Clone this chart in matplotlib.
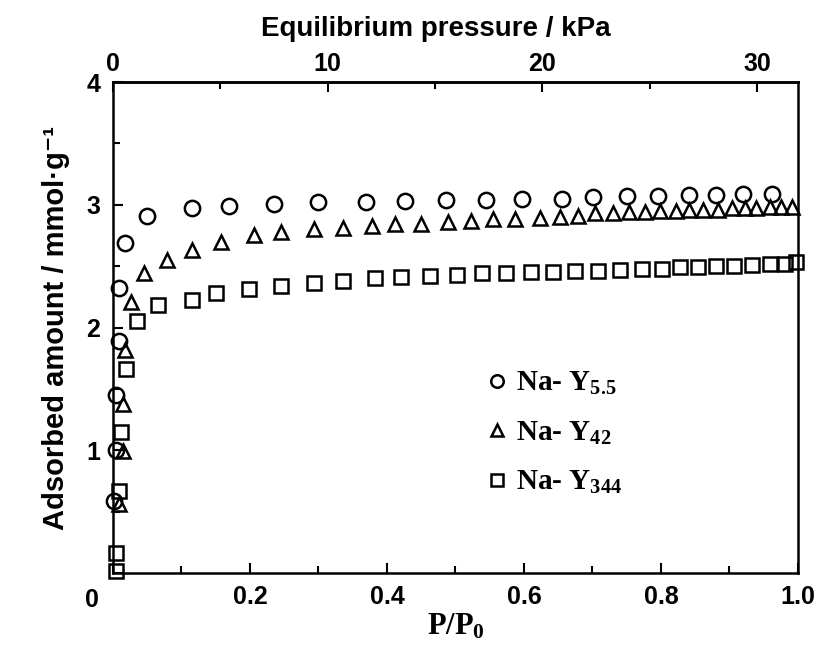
import matplotlib
matplotlib.use("Agg")
import matplotlib.pyplot as plt
from matplotlib.ticker import MultipleLocator, FixedLocator, FuncFormatter
from matplotlib.lines import Line2D

# --------------------------------------------
# Data
# --------------------------------------------
p_max_kpa = 31.9   # pressure at P/P0 = 1

y55_x = [0.001, 0.004, 0.004, 0.009, 0.009, 0.017, 0.050, 0.115, 0.170, 0.235,
         0.300, 0.369, 0.427, 0.486, 0.545, 0.597, 0.656, 0.701, 0.750, 0.796,
         0.841, 0.880, 0.920, 0.962]
y55_y = [0.59, 1.00, 1.45, 1.89, 2.32, 2.69, 2.91, 2.97, 2.99, 3.01,
         3.02, 3.02, 3.03, 3.04, 3.04, 3.05, 3.05, 3.06, 3.07, 3.07,
         3.08, 3.08, 3.09, 3.09]

y42_x = [0.009, 0.014, 0.014, 0.017, 0.027, 0.045, 0.079, 0.115, 0.157, 0.206,
         0.245, 0.293, 0.336, 0.378, 0.411, 0.450, 0.489, 0.522, 0.555, 0.587,
         0.623, 0.653, 0.679, 0.704, 0.730, 0.753, 0.776, 0.799, 0.822, 0.841,
         0.861, 0.883, 0.903, 0.923, 0.939, 0.959, 0.975, 0.991]
y42_y = [0.56, 0.99, 1.38, 1.82, 2.21, 2.44, 2.55, 2.63, 2.70, 2.75,
         2.78, 2.80, 2.81, 2.83, 2.84, 2.84, 2.86, 2.87, 2.88, 2.88,
         2.89, 2.90, 2.91, 2.93, 2.93, 2.94, 2.94, 2.95, 2.95, 2.96,
         2.96, 2.96, 2.97, 2.97, 2.97, 2.98, 2.98, 2.98]

y344_x = [0.004, 0.004, 0.009, 0.012, 0.019, 0.035, 0.065, 0.115, 0.150, 0.199,
          0.245, 0.293, 0.336, 0.382, 0.420, 0.463, 0.502, 0.538, 0.574, 0.610,
          0.642, 0.675, 0.708, 0.740, 0.773, 0.802, 0.828, 0.854, 0.880, 0.907,
          0.933, 0.959, 0.981, 0.997]
y344_y = [0.02, 0.16, 0.67, 1.15, 1.66, 2.05, 2.18, 2.22, 2.28, 2.31,
          2.34, 2.36, 2.38, 2.40, 2.41, 2.42, 2.43, 2.44, 2.44, 2.45,
          2.45, 2.46, 2.46, 2.47, 2.48, 2.48, 2.49, 2.49, 2.50, 2.50,
          2.51, 2.52, 2.52, 2.53]

series_labels = [r"Na- Y$_{\mathrm{5.5}}$", r"Na- Y$_{\mathrm{42}}$", r"Na- Y$_{\mathrm{344}}$"]
series_markers = ["o", "^", "s"]

# --------------------------------------------
# Style
# --------------------------------------------
plt.rcParams["mathtext.fontset"] = "custom"
plt.rcParams["mathtext.rm"] = "Liberation Serif:bold"
plt.rcParams["mathtext.default"] = "rm"

sans = ["Liberation Sans", "DejaVu Sans"]
serif = ["Liberation Serif", "DejaVu Serif"]

fig = plt.figure(figsize=(8.23, 6.55), dpi=100)
ax = fig.add_axes([0.1373, 0.1252, 0.8323, 0.7496])

mk = dict(linestyle="none", markerfacecolor="none", markeredgecolor="black",
          markeredgewidth=1.8, clip_on=False)
ax.plot(y55_x, y55_y, marker="o", markersize=11, **mk)
ax.plot(y42_x, y42_y, marker="^", markersize=10, **mk)
ax.plot(y344_x, y344_y, marker="s", markersize=10, **mk)

ax.set_xlim(0, 1.0)
ax.set_ylim(0, 4)

for s in ax.spines.values():
    s.set_linewidth(1.8)

# x axis
ax.xaxis.set_major_locator(FixedLocator([0, 0.2, 0.4, 0.6, 0.8, 1.0]))
ax.xaxis.set_minor_locator(MultipleLocator(0.1))
ax.xaxis.set_major_formatter(FuncFormatter(lambda v, p: "" if v == 0 else f"{v:.1f}"))
# y axis
ax.yaxis.set_major_locator(FixedLocator([0, 1, 2, 3, 4]))
ax.yaxis.set_minor_locator(MultipleLocator(0.5))
ax.yaxis.set_major_formatter(FuncFormatter(lambda v, p: "" if v == 0 else f"{v:.0f}"))

ax.tick_params(which="both", direction="in", width=1.5, top=False, right=False)
ax.tick_params(which="major", length=7, pad=9)
ax.tick_params(which="minor", length=5)
for lab in ax.get_xticklabels() + ax.get_yticklabels():
    lab.set_fontfamily(sans)
    lab.set_fontweight("bold")
    lab.set_fontsize(18)

# corner "0" sits below-left of the origin
ax.text(-0.031, -0.031, "0", transform=ax.transAxes, ha="center", va="top",
        family=sans, fontweight="bold", fontsize=18)

ax.set_xlabel(r"P/P$_{\mathrm{0}}$", family=serif, fontweight="bold", fontsize=22, labelpad=2)
ax.set_ylabel("Adsorbed amount / mmol·g⁻¹", family=sans, fontweight="bold",
              fontsize=21, labelpad=12)

# top axis: equilibrium pressure
top = ax.secondary_xaxis("top", functions=(lambda x: x * p_max_kpa, lambda k: k / p_max_kpa))
top.xaxis.set_major_locator(FixedLocator([0, 10, 20, 30]))
top.xaxis.set_minor_locator(FixedLocator([5, 15, 25]))
top.tick_params(which="both", direction="in", width=1.5)
top.tick_params(which="major", length=7, pad=4)
top.tick_params(which="minor", length=5)
top.spines["top"].set_linewidth(1.8)
for lab in top.xaxis.get_ticklabels():
    lab.set_fontfamily(sans)
    lab.set_fontweight("bold")
    lab.set_fontsize(18)
top.set_xlabel("Equilibrium pressure / kPa", family=sans, fontweight="bold",
               fontsize=20, labelpad=12, x=0.472)

# legend
handles = [Line2D([], [], marker=m, linestyle="none", markerfacecolor="none",
                  markeredgecolor="black", markeredgewidth=1.8, markersize=9)
           for m in series_markers]
leg = ax.legend(handles, series_labels, loc="center left", bbox_to_anchor=(0.505, 0.285),
                frameon=False, handlelength=0.8, handletextpad=0.25, labelspacing=0.77,
                prop=dict(family=serif, weight="bold", size=21))

fig.savefig("out.png", dpi=100)
